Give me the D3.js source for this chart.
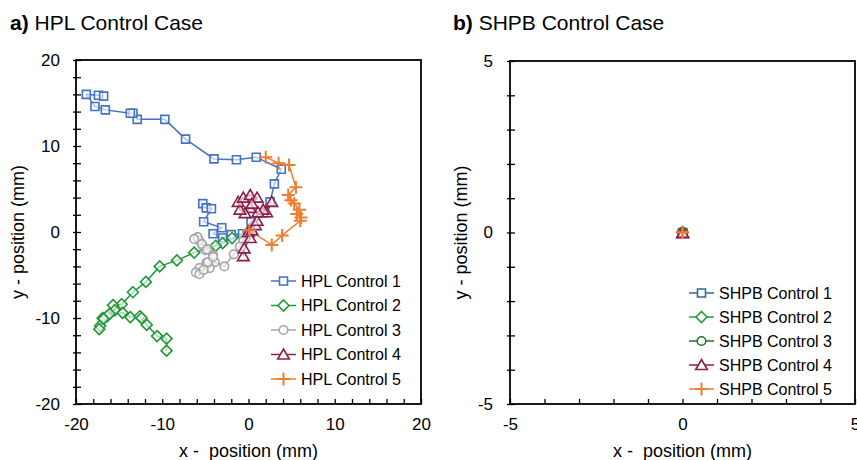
<!DOCTYPE html>
<html><head><meta charset="utf-8">
<script src="https://cdn.jsdelivr.net/npm/d3@7"></script>
<style>body{margin:0;background:#fff}svg{display:block;font-family:"Liberation Sans",Arial,sans-serif}</style>
</head><body><svg id="c" width="857" height="460"></svg>
<script>
// ---- data (mm) ----
const hplNames = ["HPL Control 1","HPL Control 2","HPL Control 3","HPL Control 4","HPL Control 5"];
const shpbNames = ["SHPB Control 1","SHPB Control 2","SHPB Control 3","SHPB Control 4","SHPB Control 5"];
const hpl1 = [[-5.3,3.3],[-4.9,2.8],[-4.3,2.7],[-5.2,1.2],[-3.1,0.5],[-4.1,-0.2],[-3.0,-0.7],[-2.0,-0.3],[-0.7,-0.2],[0.3,1.2],[2.5,3.5],[3.0,5.6],[3.8,7.3],[0.9,8.7],[-1.4,8.4],[-4.0,8.5],[-7.3,10.8],[-9.7,13.1],[-12.9,13.1],[-13.4,13.8],[-13.7,13.8],[-16.6,14.2],[-17.8,14.6],[-18.8,16.0],[-17.4,15.9],[-16.8,15.8]];
const hpl2 = [[0,0],[-1.9,-0.7],[-3.0,-1.3],[-3.8,-1.6],[-6.3,-2.4],[-8.3,-3.3],[-10.3,-4.0],[-11.9,-5.8],[-13.4,-7.0],[-14.7,-8.4],[-15.7,-8.5],[-15.5,-9.1],[-16.4,-9.8],[-16.9,-10.0],[-17.2,-10.9],[-17.3,-11.3],[-16.8,-10.1],[-16.1,-9.5],[-14.6,-9.4],[-13.7,-9.9],[-12.6,-9.8],[-12.4,-10.0],[-11.8,-10.8],[-10.6,-12.1],[-9.5,-12.4],[-9.5,-13.8]];
const hpl3 = [[0,0],[-0.6,-1.0],[-1.0,-1.7],[-1.7,-2.6],[-2.8,-4.0],[-3.9,-3.5],[-4.5,-4.2],[-4.9,-3.6],[-5.7,-4.2],[-6.1,-4.7],[-5.7,-4.9],[-5.2,-4.4],[-4.7,-3.5],[-4.1,-2.7],[-5.0,-2.1],[-5.3,-1.6],[-5.7,-1.0],[-5.9,-0.6],[-6.3,-0.8],[-5.4,-1.4],[-4.8,-2.0],[-4.1,-2.9]];
const hpl4 = [[0,0],[-0.6,-2.8],[-0.5,-1.9],[0.2,-0.7],[0.4,0.2],[0.8,0.8],[1.0,1.3],[1.6,2.3],[2.1,2.3],[2.7,3.5],[1.7,2.6],[1.1,2.3],[0.2,2.8],[-0.4,2.2],[-1.0,2.6],[-1.2,3.5],[-0.6,4.0],[0.2,4.3],[1.0,4.0],[0.4,3.3]];
const hpl5 = [[0.1,0.2],[2.7,-1.5],[3.9,-0.4],[6.0,1.3],[6.1,1.7],[5.6,2.1],[5.9,2.6],[5.3,3.3],[4.9,3.7],[4.6,4.3],[5.5,5.2],[4.7,7.8],[3.5,8.0],[2.0,8.7]];
const shpb1 = [[0,0],[0.01,-0.01]];
const shpb2 = [[0,0],[-0.01,0.01]];
const shpb3 = [[0,0],[0.01,0.01]];
const shpb4 = [[0,-0.02],[0.01,-0.01]];
const shpb5 = [[0,0],[0,0.01]];
const hplTicks = [-20,-10,0,10,20];
const shpbTicks = [-5,0,5];
const hplColors = ["#4472C4","#22973A","#A5A5A5","#8C1D47","#ED7D31"];
const shpbColors = ["#2B6A94","#22A03A","#2D6E2D","#8C1D47","#ED7D31"];
const markerPaths = ["M-4,-4h8v8h-8Z","M0,-5.5L5.5,0L0,5.5L-5.5,0Z","M4.3,0A4.3,4.3 0 1 1 -4.3,0A4.3,4.3 0 1 1 4.3,0Z","M0,-5.5L5.8,4.5L-5.8,4.5Z","M-6.5,0H6.5M0,-6.5V6.5"];

const svg = d3.select("#c");

function panel(cfg){
  const colors = cfg.colors;
  const x = d3.scaleLinear().domain(cfg.dom).range([cfg.x0,cfg.x1]);
  const y = d3.scaleLinear().domain(cfg.dom).range([cfg.y1,cfg.y0]);
  const g = svg.append("g");
  // title
  const t = g.append("text").attr("x",cfg.tx).attr("y",30).attr("font-size",21).attr("fill","#000");
  t.append("tspan").attr("font-weight","bold").text(cfg.tag);
  t.append("tspan").text(" "+cfg.title);
  // axes
  const minor = d3.range(cfg.dom[0], cfg.dom[1]+1e-9, cfg.minor);
  const isMajor = d => cfg.ticks.some(v=>Math.abs(v-d)<1e-9);
  const fmt = d => isMajor(d) ? String(d) : "";
  const xa = g.append("g").attr("transform",`translate(0,${cfg.y1})`)
    .call(d3.axisBottom(x).tickValues(minor).tickSizeInner(-5).tickSizeOuter(0).tickPadding(14).tickFormat(fmt));
  const ya = g.append("g").attr("transform",`translate(${cfg.x0},0)`)
    .call(d3.axisLeft(y).tickValues(minor).tickSizeInner(3).tickSizeOuter(0).tickPadding(cfg.ypad).tickFormat(fmt));
  ya.selectAll(".tick line").attr("x1",5);
  [xa,ya].forEach(a=>{
    a.select(".domain").remove();
    a.selectAll(".tick line").attr("stroke","#000").attr("stroke-width",1.3);
    a.selectAll("text").attr("font-size",17).attr("fill","#000").attr("font-family","Liberation Sans, Arial, sans-serif");
  });
  g.append("rect").attr("x",cfg.x0).attr("y",cfg.y0).attr("width",cfg.x1-cfg.x0).attr("height",cfg.y1-cfg.y0)
    .attr("fill","none").attr("stroke","#000").attr("stroke-width",1.8);
  // axis titles
  g.append("text").attr("x",(cfg.x0+cfg.x1)/2).attr("y",457).attr("text-anchor","middle").attr("font-size",18).attr("fill","#000")
    .attr("xml:space","preserve").text("x -  position (mm)");
  g.append("text").attr("transform",`translate(${cfg.ytx},${(cfg.y0+cfg.y1)/2}) rotate(-90)`).attr("text-anchor","middle")
    .attr("font-size",18).attr("fill","#000").text("y - position (mm)");
  // series
  const line = d3.line().x(d=>x(d[0])).y(d=>y(d[1]));
  cfg.series.forEach((s,i)=>{
    g.append("path").attr("d",line(s)).attr("fill","none").attr("stroke",colors[i]).attr("stroke-width",1.5);
  });
  cfg.series.forEach((s,i)=>{
    g.selectAll(null).data(s).join("path")
      .attr("transform",d=>`translate(${x(d[0])},${y(d[1])})`)
      .attr("d",markerPaths[i]).attr("fill",i===4?"none":"#fff").attr("fill-opacity",i===4?0:0.6)
      .attr("stroke",colors[i]).attr("stroke-width",i===4?2:1.6);
  });
  // legend
  const lg = g.append("g");
  cfg.names.forEach((n,i)=>{
    const yy = cfg.ly + i*cfg.lstep;
    lg.append("line").attr("x1",cfg.lx).attr("x2",cfg.lx+25).attr("y1",yy).attr("y2",yy).attr("stroke",colors[i]).attr("stroke-width",1.5);
    lg.append("path").attr("transform",`translate(${cfg.lx+12.5},${yy})`).attr("d",markerPaths[i])
      .attr("fill",i===4?"none":"#fff").attr("stroke",colors[i]).attr("stroke-width",i===4?2:1.6);
    lg.append("text").attr("x",cfg.lx+30).attr("y",yy+5.8).attr("font-size",16).attr("fill","#000").text(n);
  });
}

panel({dom:[-20,20],x0:76,x1:421,y0:60,y1:404,minor:2,ticks:hplTicks,ypad:13,ytx:24,tx:10,tag:"a)",title:"HPL Control Case",
  series:[hpl1,hpl2,hpl3,hpl4,hpl5],names:hplNames,colors:hplColors,lx:271,ly:281,lstep:24.5});
panel({dom:[-5,5],x0:510,x1:855,y0:61,y1:404,minor:1,ticks:shpbTicks,ypad:14,ytx:467,tx:453,tag:"b)",title:"SHPB Control Case",
  series:[shpb1,shpb2,shpb3,shpb4,shpb5],names:shpbNames,colors:shpbColors,lx:689,ly:293,lstep:24});
</script></body></html>
